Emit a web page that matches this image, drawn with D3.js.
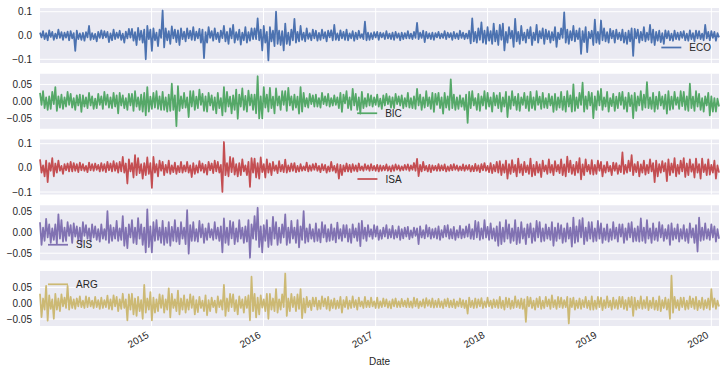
<!DOCTYPE html>
<html>
<head>
<meta charset="utf-8">
<script src="https://cdn.jsdelivr.net/npm/d3@7"></script>
<style>
body { margin: 0; background: #fff; }
svg text { font-family: "Liberation Sans", Arial, sans-serif; font-size: 10px; fill: #262626; }
</style>
</head>
<body>
<svg width="727" height="374"></svg>
<script>
// series names and colours (seaborn deep)
var names = ["ECO", "BIC", "ISA", "SIS", "ARG"];
var colors = ["#4C72B0", "#55A868", "#C44E52", "#8172B2", "#CCB974"];

// first and last date of the index, points are evenly spread between them
var firstDate = "2014-01-02", lastDate = "2020-01-26";
var yearTicks = ["2015", "2016", "2017", "2018", "2019", "2020"];

// returns, in thousandths (about one value every 5 days)
var eco = [12,-8,18,-15,10,-20,22,-6,15,-18,8,-12,25,-10,14,-18,12,-9,16,-20,
  18,-12,10,-65,20,-15,9,-18,11,-22,14,-8,40,-18,10,-15,7,-25,15,-10,
  22,-12,18,-8,15,-28,9,-20,25,-15,12,-10,20,-18,8,-30,16,-12,28,-9,
  28,-22,14,-40,32,-18,20,-30,25,-100,40,-15,25,-65,30,-20,12,-45,25,-10,
  105,-50,30,-20,18,-35,38,-12,25,-28,22,-40,30,-15,16,-25,30,-12,20,-18,
  35,-20,16,-12,28,-30,25,-95,14,-30,35,-10,18,-22,30,-15,12,-28,20,-11,
  40,-25,15,-35,30,-12,45,-30,14,-18,25,-38,12,-20,35,-30,14,-22,30,-15,
  30,-15,72,-20,25,-63,40,-30,15,-105,35,-25,20,-45,100,-35,20,-40,18,-63,
  50,-35,12,-40,25,-20,70,-30,15,-25,40,-18,12,-25,30,-14,10,-20,25,-12,
  20,-22,11,-18,25,-12,14,-25,20,-8,22,-20,45,-18,9,-20,22,-12,15,-18,
  25,-20,9,-12,18,-22,12,-15,20,-10,6,-15,58,-20,12,-18,10,-15,14,-8,
  15,-18,12,-8,10,-15,18,-12,8,-15,12,-18,15,-10,9,-20,12,-15,10,-12,
  18,-12,8,-15,15,-10,53,-15,12,-10,20,-28,15,-12,9,-15,12,-18,10,-8,
  15,-12,8,-10,18,-15,12,-8,10,-18,15,-12,9,-15,20,-10,12,-15,8,-12,
  20,-33,72,-25,15,-30,30,-18,55,-30,20,-35,35,-22,18,-35,50,-25,20,-40,
  45,-18,50,-63,15,-30,35,-12,20,-48,70,-25,15,-35,40,-20,12,-30,25,-12,
  35,-40,12,-20,45,-30,18,-12,30,-35,25,-15,18,-30,14,-20,35,-48,12,-15,
  30,-10,97,-30,25,-35,18,-20,40,-25,20,-15,30,-77,18,-28,35,-70,15,-12,
  20,-40,67,-30,15,-35,63,-20,30,-25,14,-30,28,-12,20,-30,25,-15,12,-20,
  25,-30,12,-35,20,-25,30,-86,28,-12,25,-30,15,-20,35,-25,12,-18,45,-30,
  25,-40,15,-22,20,-28,10,-35,22,-12,18,-20,8,-22,20,-15,12,-18,15,-10,
  18,-20,8,-22,22,-15,10,-25,20,-12,18,-15,8,-20,45,-12,15,-20,18,-10,
  15,-22,10,-8];
var bic = [25,-10,30,-20,12,-25,15,-22,28,-8,42,-28,15,-18,20,-22,12,-15,28,-10,
  22,-18,10,-25,18,-12,20,-31,18,-15,12,-20,25,-12,15,-22,8,-20,22,-10,
  15,-22,28,-10,20,-18,12,-20,25,-15,18,-35,25,-12,18,-20,10,-25,22,-12,
  22,-28,30,-15,12,-25,20,-30,25,-41,42,-30,14,-22,25,-18,30,-22,15,-25,
  28,-25,12,-30,20,-28,52,-25,18,-73,45,-28,15,-20,25,-18,12,-46,30,-15,
  30,-25,14,-20,35,-10,22,-28,15,-30,25,-12,18,-25,12,-35,25,-20,10,-41,
  42,-30,28,-15,14,-35,18,-25,35,-51,20,-15,38,-25,16,-30,32,-12,20,-25,
  20,-35,74,-50,15,-50,42,-18,20,-30,40,-20,14,-35,38,-12,15,-25,30,-10,
  30,-28,40,-12,15,-25,20,-18,14,-36,42,-30,25,-15,10,-18,22,-8,18,-15,
  20,-15,10,-18,25,-8,15,-12,22,-15,10,-12,18,-10,12,-20,25,-31,20,-6,
  30,-20,12,-25,37,-12,22,-25,12,-36,28,-20,10,-15,22,-12,18,-15,12,-10,
  20,-15,8,-22,18,-12,22,-8,15,-18,12,-20,22,-8,15,-12,18,-20,10,-15,
  25,-18,10,-20,15,-22,37,-12,20,-25,12,-18,30,-14,12,-22,25,-31,22,-10,
  25,-20,12,-36,25,-18,15,-25,65,-20,20,-25,12,-22,18,-15,10,-25,20,-63,
  28,-20,30,-12,10,-25,22,-28,15,-12,30,-22,25,-15,12,-30,25,-12,18,-20,
  25,-30,12,-15,28,-46,15,-22,30,-12,14,-25,22,-28,12,-10,25,-20,15,-28,
  28,-20,12,-25,30,-10,14,-22,25,-18,10,-20,22,-12,15,-31,22,-25,12,-18,
  28,-25,14,-30,30,-15,18,-30,50,-28,12,-20,25,-10,55,-30,15,-22,28,-12,
  25,-49,15,-25,30,-12,37,-25,12,-15,28,-30,10,-14,22,-28,14,-20,25,-10,
  28,-22,12,-30,25,-14,18,-49,25,-28,15,-12,30,-25,20,-18,57,-20,12,-22,
  25,-30,14,-22,28,-12,15,-22,20,-36,30,-25,14,-22,28,-10,12,-22,30,-14,
  28,-25,15,-28,52,-20,14,-28,30,-15,22,-25,10,-30,15,-12,25,-41,15,-30,
  10,-30,8,-15];
var isa = [35,-20,10,-35,30,-59,20,-12,40,-35,18,-20,30,-12,8,-25,15,-10,18,-15,
  25,-15,20,-12,15,-18,22,-10,15,-12,8,-18,22,-10,15,-12,18,-8,12,-15,
  20,-12,15,-18,25,-10,18,-15,28,-12,20,-20,25,-15,45,-20,18,-65,35,-15,
  20,-40,53,-30,40,-22,15,-45,20,-30,43,-25,20,-83,45,-20,15,-35,30,-12,
  25,-30,12,-20,30,-25,10,-18,22,-25,8,-18,25,-20,10,-15,25,-20,10,-38,
  20,-25,10,-20,28,-12,18,-20,12,-28,25,-10,18,-22,30,-15,25,-20,12,-100,
  107,-30,20,-35,45,-18,40,-28,15,-35,20,-30,35,-15,10,-30,25,-79,40,-20,
  38,-40,20,-45,43,-18,15,-40,35,-20,18,-30,25,-12,10,-22,28,-15,12,-18,
  34,-20,10,-15,18,-12,20,-18,8,-15,15,-12,6,-10,22,-15,10,-12,15,-8,
  18,-12,8,-18,15,-10,12,-20,6,-15,25,-12,8,-20,15,-45,12,-30,10,-15,
  18,-15,12,-18,15,-12,10,-15,18,-10,6,-12,15,-8,10,-12,15,-10,8,-12,
  12,-15,10,-12,8,-10,14,-12,6,-15,10,-12,14,-8,10,-12,6,-10,12,-8,
  14,-12,10,-8,20,-12,37,-34,12,-15,25,-10,8,-15,12,-18,10,-10,8,-12,
  15,-12,10,-10,14,-15,6,-12,12,-10,15,-8,10,-12,6,-10,14,-12,10,-8,
  12,-15,8,-14,16,-12,10,-18,15,-10,20,-12,8,-18,20,-22,12,-15,25,-20,
  28,-30,14,-20,30,-45,15,-25,32,-18,12,-35,38,-20,14,-30,25,-18,10,-25,
  38,-35,12,-30,25,-20,14,-38,30,-15,10,-25,35,-20,12,-30,28,-15,12,-22,
  35,-30,14,-35,46,-18,30,-25,12,-30,25,-20,40,-48,14,-30,35,-15,12,-25,
  32,-28,12,-25,30,-12,25,-35,10,-20,25,-15,8,-30,22,-12,20,-25,10,-18,
  64,-25,12,-20,30,-14,53,-30,15,-18,25,-35,14,-20,30,-28,12,-22,35,-15,
  20,-59,30,-35,15,-20,28,-15,20,-55,35,-30,18,-20,40,-35,12,-25,30,-15,
  40,-38,18,-30,35,-16,15,-40,38,-20,15,-45,38,-18,14,-30,35,-28,12,-20,
  30,-45,10,-20];
var sis = [25,-30,12,-20,33,-12,20,-25,10,-18,20,-28,44,-15,30,-22,12,-20,25,-8,
  18,-25,22,-10,15,-20,12,-28,25,-8,18,-15,10,-22,20,-12,15,-18,8,-22,
  20,-15,8,-18,52,-25,18,-20,12,-15,28,-20,10,-18,40,-32,12,-38,20,-12,
  30,-25,12,-28,35,-15,20,-30,12,-48,56,-35,15,-48,25,-20,30,-18,12,-25,
  28,-30,12,-25,25,-32,14,-20,30,-22,12,-28,25,-15,12,-28,54,-51,18,-20,
  25,-20,8,-22,28,-12,20,-25,10,-18,22,-12,8,-18,25,-15,12,-20,15,-48,
  34,-25,12,-30,28,-14,25,-28,10,-22,30,-15,12,-25,15,-22,30,-61,20,-15,
  40,-18,60,-35,15,-48,18,-20,30,-35,12,-30,38,-15,25,-30,12,-25,20,-12,
  44,-30,12,-25,28,-15,12,-25,30,-36,15,-18,52,-25,10,-22,20,-15,8,-22,
  22,-20,8,-24,25,-12,18,-22,8,-20,20,-18,10,-24,24,-15,8,-20,18,-12,
  18,-22,8,-25,20,-12,10,-20,22,-33,28,-15,12,-20,18,-10,8,-15,18,-10,
  15,-18,6,-15,12,-10,18,-14,8,-12,16,-15,6,-12,15,-18,8,-14,12,-10,
  14,-16,5,-12,12,-8,10,-28,15,-12,6,-14,18,-10,12,-15,8,-12,10,-15,
  15,-18,6,-12,16,-10,18,-15,8,-14,14,-18,6,-12,16,-14,8,-12,15,-10,
  20,-15,8,-16,28,-12,25,-18,10,-15,30,-12,14,-18,22,-15,10,-20,15,-32,
  25,-28,12,-22,30,-15,20,-25,10,-20,30,-28,12,-25,25,-15,10,-28,20,-12,
  22,-25,10,-20,28,-12,25,-22,10,-20,20,-15,12,-18,25,-32,12,-20,22,-15,
  18,-25,10,-22,22,-15,12,-34,36,-25,15,-22,30,-12,35,-28,12,-20,25,-15,
  25,-22,10,-20,28,-15,22,-25,10,-18,20,-22,8,-18,25,-15,12,-22,20,-10,
  20,-25,10,-18,22,-12,25,-22,10,-20,15,-22,34,-20,12,-25,30,-15,10,-25,
  22,-18,10,-20,25,-12,18,-20,8,-15,18,-30,22,-18,10,-15,20,-22,8,-15,
  18,-20,8,-25,22,-12,10,-25,18,-46,36,-20,12,-18,22,-15,8,-18,20,-12,
  15,-22,8,-15];
var arg = [30,-44,15,-20,55,-55,25,-18,12,-49,30,-20,15,-25,28,-10,18,-15,55,-20,
  20,-15,12,-18,15,-10,22,-12,8,-15,22,-12,18,-10,8,-15,20,-12,10,-18,
  18,-15,10,-12,24,-18,12,-20,25,-10,20,-25,12,-18,30,-15,12,-54,28,-20,
  30,-35,15,-40,20,-25,10,-49,58,-30,15,-20,35,-54,18,-30,12,-25,28,-15,
  25,-30,12,-20,47,-45,30,-15,12,-25,40,-35,15,-20,25,-30,12,-20,28,-15,
  22,-35,10,-28,20,-15,8,-25,25,-38,10,-25,18,-12,8,-30,22,-12,10,-20,
  58,-40,15,-25,30,-12,28,-25,10,-35,22,-15,12,-30,20,-15,25,-54,84,-25,
  30,-45,18,-35,25,-14,12,-25,30,-49,30,-20,15,-25,45,-30,12,-20,28,-12,
  94,-40,15,-25,30,-12,20,-25,28,-18,45,-47,15,-30,20,-12,8,-22,18,-10,
  18,-20,8,-18,22,-10,15,-18,20,-23,10,-15,15,-18,8,-15,20,-30,10,-12,
  20,-18,8,-15,22,-12,10,-20,18,-10,6,-15,20,-12,8,-12,18,-10,6,-15,
  18,-15,6,-12,15,-10,12,-14,6,-16,12,-10,15,-12,6,-12,14,-10,8,-12,
  15,-12,6,-14,18,-10,14,-15,6,-10,12,-14,16,-8,10,-12,15,-14,8,-12,
  14,-12,6,-15,12,-10,15,-13,8,-12,12,-15,6,-10,15,-12,10,-15,8,-33,
  18,-12,8,-15,15,-14,12,-10,16,-15,6,-12,18,-10,8,-15,12,-12,10,-15,
  20,-15,8,-20,18,-12,15,-18,8,-15,22,-12,10,-15,15,-18,12,-59,20,-10,
  18,-15,8,-20,15,-12,20,-18,8,-15,20,-10,12,-18,25,-12,10,-18,20,-12,
  18,-15,10,-12,20,-64,15,-12,18,-20,8,-15,15,-18,10,-12,20,-15,8,-20,
  22,-20,8,-18,20,-12,18,-22,10,-15,22,-12,8,-20,18,-15,10,-18,20,-12,
  20,-18,10,-22,18,-12,20,-40,18,-20,8,-15,22,-18,10,-15,20,-22,8,-15,
  18,-20,8,-22,22,-25,10,-15,18,-20,12,-49,87,-30,20,-15,10,-22,18,-12,
  18,-20,8,-18,22,-12,15,-18,20,-22,8,-15,18,-20,10,-15,15,-20,45,-12,
  15,-18,8,-10];

var seriesValues = [eco, bic, isa, sis, arg];
var yTicks = [[-0.1, 0, 0.1], [-0.05, 0, 0.05], [-0.1, 0, 0.1], [-0.05, 0, 0.05], [-0.05, 0, 0.05]];
var legendLoc = ["lower right", "lower center", "lower center", "lower left", "upper left"];

var svg = d3.select("svg");
var left = 40, right = 719, top0 = 8, panelH = 55, step = 65.75;

var parseDate = d3.timeParse("%Y-%m-%d");
var t0 = parseDate(firstDate), t1 = parseDate(lastDate);

var x = d3.scaleTime().domain([t0, t1]).range([left, right]);
var years = yearTicks.map(function(y) { return parseDate(y + "-01-01"); });

seriesValues.forEach(function(vals, k) {
  var n = vals.length;
  var data = vals.map(function(v, i) {
    return { date: new Date(+t0 + (t1 - t0) * i / (n - 1)), value: v / 1000 };
  });

  var ext = d3.extent(data, function(d) { return d.value; });
  var pad = (ext[1] - ext[0]) * 0.05;
  var top = top0 + k * step, bottom = top + panelH;
  var y = d3.scaleLinear().domain([ext[0] - pad, ext[1] + pad]).range([bottom, top]);

  var g = svg.append("g");
  g.append("rect")
    .attr("x", left).attr("y", top)
    .attr("width", right - left).attr("height", panelH)
    .attr("fill", "#EAEAF2");

  // grid
  g.selectAll(".vgrid").data(years).enter().append("line")
    .attr("x1", function(d) { return x(d); }).attr("x2", function(d) { return x(d); })
    .attr("y1", top).attr("y2", bottom)
    .attr("stroke", "#fff").attr("stroke-width", 1);
  g.selectAll(".hgrid").data(yTicks[k]).enter().append("line")
    .attr("x1", left).attr("x2", right)
    .attr("y1", function(d) { return y(d); }).attr("y2", function(d) { return y(d); })
    .attr("stroke", "#fff").attr("stroke-width", 1);

  var fmt = d3.format(k == 0 || k == 2 ? ".1f" : ".2f");
  g.selectAll(".ytick").data(yTicks[k]).enter().append("text")
    .attr("x", left - 8)
    .attr("y", function(d) { return y(d); })
    .attr("dy", "0.35em")
    .attr("text-anchor", "end")
    .text(function(d) { return fmt(d); });

  var line = d3.line()
    .x(function(d) { return x(d.date); })
    .y(function(d) { return y(d.value); });

  g.append("path")
    .datum(data)
    .attr("d", line)
    .attr("fill", "none")
    .attr("stroke", colors[k])
    .attr("stroke-width", 1.75)
    .attr("stroke-linejoin", "round");

  // legend, no frame
  var lg = g.append("g");
  var label = lg.append("text").text(names[k]).attr("dy", "0.35em");
  var tw = label.node().getComputedTextLength();
  var w = 20 + 8 + tw;
  var loc = legendLoc[k];
  var lx = loc.indexOf("left") >= 0 ? left + 8 : (loc.indexOf("right") >= 0 ? right - 8 - w : (left + right) / 2 - w / 2);
  var ly = loc.indexOf("upper") >= 0 ? top + 13.3 : bottom - 15.5;
  lg.append("line")
    .attr("x1", lx).attr("x2", lx + 20)
    .attr("y1", ly).attr("y2", ly)
    .attr("stroke", colors[k]).attr("stroke-width", 1.75);
  label.attr("x", lx + 28).attr("y", ly);

  if (k == names.length - 1) {
    g.selectAll(".xtick").data(years).enter().append("text")
      .attr("text-anchor", "end")
      .attr("transform", function(d) { return "translate(" + (x(d) - 2) + "," + (bottom + 11) + ") rotate(-30)"; })
      .text(function(d) { return d3.timeFormat("%Y")(d); });
    g.append("text")
      .attr("x", (left + right) / 2).attr("y", 364.5)
      .attr("text-anchor", "middle")
      .text("Date");
  }
});
</script>
</body>
</html>
